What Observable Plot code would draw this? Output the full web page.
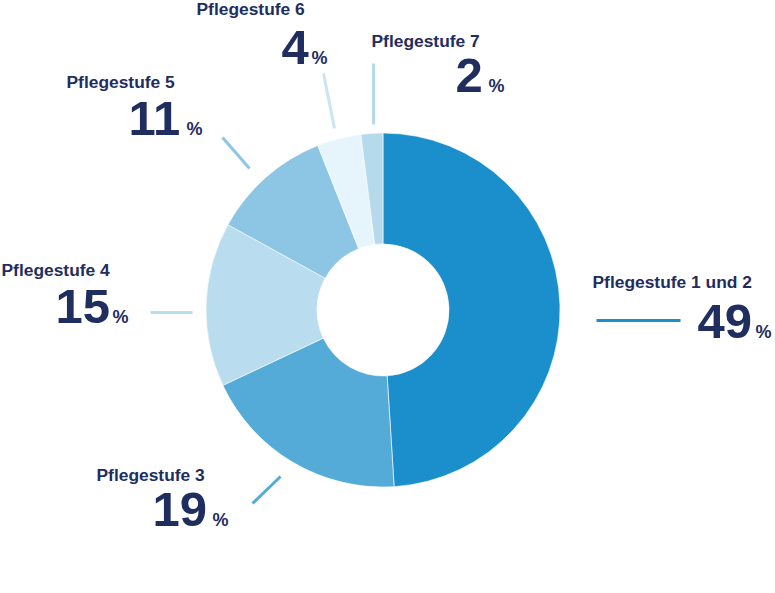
<!DOCTYPE html>
<html>
<head>
<meta charset="utf-8">
<script src="https://cdn.jsdelivr.net/npm/d3@7"></script>
<script src="https://cdn.jsdelivr.net/npm/@observablehq/plot@0.6"></script>
<style>
  html, body { margin: 0; padding: 0; background: #fff; }
  #chart { width: 775px; height: 593px; }
</style>
</head>
<body>
<div id="chart"></div>
<script>
// ---- data ----
const categories = ["Pflegestufe 1 und 2", "Pflegestufe 3", "Pflegestufe 4", "Pflegestufe 5", "Pflegestufe 6", "Pflegestufe 7"];
const shares = [49, 19, 15, 11, 4, 2];
const sliceColors = ["#1a8fcb", "#55abd8", "#b9dcef", "#8cc6e4", "#e6f4fb", "#b5daec"];
const leaderColors = ["#1a8fcb", "#55abd8", "#b9dcef", "#8cc6e4", "#c9e5f3", "#b5daec"];

// ---- layout (pixel positions, separate from data) ----
const center = {x: 383, y: 310};
const outerR = 177, innerR = 66;
const layout = [
  {lx: 592, ly: 287, nx: 697, pxp: 755, ny: 337, x1: 596, y1: 320, x2: 680, y2: 320},
  {lx: 96,  ly: 480, nx: 152, pxp: 212, ny: 525, x1: 280, y1: 476, x2: 252, y2: 503},
  {lx: 1,   ly: 275, nx: 55,  pxp: 112, ny: 322, x1: 192, y1: 312, x2: 150, y2: 312},
  {lx: 66,  ly: 87,  nx: 128, pxp: 186, ny: 134, x1: 249, y1: 168, x2: 222, y2: 137},
  {lx: 196, ly: 14,  nx: 281, pxp: 311, ny: 63,  x1: 334, y1: 128, x2: 323, y2: 73},
  {lx: 371, ly: 46,  nx: 455, pxp: 488, ny: 91,  x1: 373, y1: 124, x2: 373, y2: 63}
];

const table = categories.map((c, i) => ({category: c, share: shares[i], ...layout[i]}));
const arcs = d3.pie().sort(null).value(d => d.share)(table);

const navy = "#1f2d5f";
const font = "'Liberation Sans', Arial, Helvetica, sans-serif";

const donut = (index, scales) => {
  const cx = scales.x(center.x), cy = scales.y(center.y);
  const ro = scales.x(center.x + outerR) - cx;
  const ri = scales.x(center.x + innerR) - cx;
  const arc = d3.arc().innerRadius(ri).outerRadius(ro);
  const g = d3.create("svg:g").attr("transform", `translate(${cx},${cy})`);
  g.selectAll("path").data(arcs).join("path")
    .attr("d", arc)
    .attr("fill", d => scales.color(d.data.category))
    .attr("stroke", "#ffffff")
    .attr("stroke-width", 0.6);
  return g.node();
};

const chart = Plot.plot({
  width: 775,
  height: 593,
  margin: 0,
  x: {domain: [0, 775], range: [0, 775], axis: null},
  y: {domain: [0, 593], range: [0, 593], axis: null},
  color: {type: "ordinal", domain: categories, range: sliceColors},
  style: {fontFamily: font, background: "#fff"},
  marks: [
    donut,
    Plot.link(table, {
      x1: "x1", y1: "y1", x2: "x2", y2: "y2",
      stroke: (d) => leaderColors[categories.indexOf(d.category)],
      strokeWidth: 3
    }),
    Plot.text(table, {
      x: "lx", y: "ly", text: "category",
      textAnchor: "start", lineAnchor: "bottom",
      fontSize: 17.4, fontWeight: "bold", fill: navy
    }),
    Plot.text(table, {
      x: "nx", y: "ny", text: d => String(d.share),
      textAnchor: "start", lineAnchor: "bottom",
      fontSize: 49, fontWeight: "bold", fill: navy, ariaLabel: "values"
    }),
    Plot.text(table, {
      x: "pxp", y: "ny", text: () => "%",
      textAnchor: "start", lineAnchor: "bottom",
      fontSize: 18, fontWeight: "bold", fill: navy
    })
  ]
});

d3.select(chart).selectAll('g[aria-label="values"] text').attr("letter-spacing", "-1.5");
document.getElementById("chart").appendChild(chart);
</script>
</body>
</html>
